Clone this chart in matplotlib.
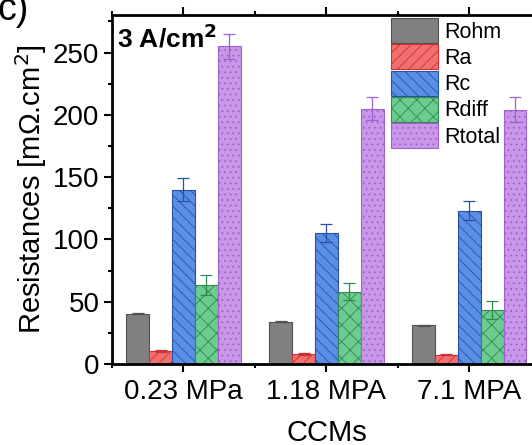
import matplotlib.pyplot as plt
import numpy as np
from matplotlib.ticker import MultipleLocator

plt.rcParams['font.family'] = ['Liberation Sans', 'DejaVu Sans']
plt.rcParams['hatch.linewidth'] = 0.6

# data
ccms = ['0.23 MPa', '1.18 MPA', '7.1 MPA']
series = ['Rohm', 'Ra', 'Rc', 'Rdiff', 'Rtotal']
rohm = [40.5, 34, 31]
ra = [10.5, 8, 7.5]
rc = [140, 105, 123]
rdiff = [63.5, 58, 43.5]
rtotal = [255, 205, 204]
rohm_err = [0.6, 0.4, 0.4]
ra_err = [0.5, 0.5, 0.5]
rc_err = [9, 7, 7.5]
rdiff_err = [8, 7, 7]
rtotal_err = [10, 9, 10]

values = [rohm, ra, rc, rdiff, rtotal]
errors = [rohm_err, ra_err, rc_err, rdiff_err, rtotal_err]
faces = ['#808080', '#F07070', '#5B8FE3', '#6CCB8F', '#C996E8']
edges = ['#505050', '#D03030', '#2850A8', '#2E8A50', '#A060D0']
hatches = ['', '///', '\\\\\\', 'xx', '...']

fig = plt.figure(figsize=(5.32, 4.45), dpi=100)
ax = fig.add_axes([0.2105, 0.182, 0.806, 0.784])

x = np.arange(len(ccms))
w = 0.16
for i, (name, v, e) in enumerate(zip(series, values, errors)):
    pos = x + (i - 2) * w
    ax.bar(pos, v, w, color=faces[i], edgecolor=edges[i], hatch=hatches[i],
           linewidth=0.8, label=name, zorder=2)
    ax.errorbar(pos, v, yerr=e, fmt='none', ecolor=edges[i], elinewidth=0.9,
                capsize=4, capthick=0.9, zorder=3)

ax.set_xlim(-0.5, 2.5)
ax.set_ylim(0, 280)
ax.set_xticks(x)
ax.set_xticklabels(ccms)
ax.xaxis.set_minor_locator(MultipleLocator(0.5))
ax.yaxis.set_major_locator(MultipleLocator(50))
ax.yaxis.set_minor_locator(MultipleLocator(25))
ax.tick_params(axis='both', which='major', labelsize=20, width=1.5, length=6, direction='out')
ax.tick_params(axis='both', which='minor', width=1.5, length=3, direction='out')
ax.tick_params(axis='x', which='both', top=True)
ax.tick_params(axis='x', which='major', pad=5)
ax.tick_params(axis='y', which='major', pad=3)
for s in ['left', 'bottom', 'top']:
    ax.spines[s].set_linewidth(2)
ax.spines['right'].set_visible(False)

ax.set_ylabel('Resistances [m\u03a9.cm$^2$]', fontsize=21, labelpad=3)
ax.set_xlabel('CCMs', fontsize=21, labelpad=10)

ax.text(0.012, 0.975, '3 A/cm$^\\mathbf{2}$', transform=ax.transAxes, fontsize=19,
        fontweight='bold', va='top', ha='left')
fig.text(-0.005, 0.955, 'c)', fontsize=27, va='baseline', ha='left')

ax.legend(loc='upper left', bbox_to_anchor=(0.645, 0.997), frameon=False, fontsize=15.5,
          handlelength=2.2, handleheight=1.4, labelspacing=0.06, handletextpad=0.3,
          borderaxespad=0.0, borderpad=0.1)

plt.savefig('out.png', dpi=100)
